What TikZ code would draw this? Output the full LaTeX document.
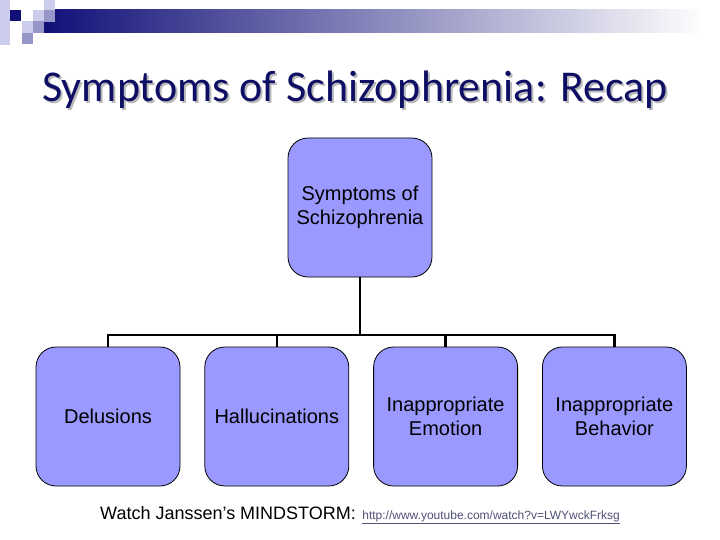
\documentclass[tikz,border=0pt]{standalone}
\usepackage{fontspec}
\setmainfont{Liberation Sans}
\newfontfamily\titlefont{Carlito}
\usepackage{xcolor}
\usetikzlibrary{positioning}

\definecolor{boxfill}{RGB}{153,153,255}
\definecolor{navy}{RGB}{16,16,120}
\definecolor{titlecol}{RGB}{14,14,100}
\definecolor{barmid}{RGB}{165,165,190}
\definecolor{lavlight}{RGB}{204,204,236}
\definecolor{lavmid}{RGB}{150,150,200}
\definecolor{urlcol}{RGB}{80,80,120}

\begin{document}
\begin{tikzpicture}[
    x=1pt, y=-1pt,
    symptom/.style={rectangle, rounded corners=20pt, minimum width=144pt, minimum height=139pt, align=center, draw=black, line width=0.8pt, fill=boxfill, font=\fontsize{20}{24}\selectfont, inner sep=0pt},
    link/.style={draw=black, line width=2.6pt}
]
    \useasboundingbox (0,0) rectangle (720,540);

    % header bar and squares
    \shade[left color=navy, middle color=barmid, right color=white] (44,10) rectangle (705,33);
    \fill[lavlight] (0,0) rectangle (10,45);
    \fill[navy] (10,10) rectangle (21,21);
    \fill[lavlight] (33,10) rectangle (44,21);
    \fill[lavlight] (44,0) rectangle (55,10);
    \fill[lavmid] (44,10) rectangle (55,22);
    \fill[lavlight] (22,21) rectangle (33,33);
    \fill[lavmid] (33,21) rectangle (44,33);
    \fill[lavmid] (22,33) rectangle (33,44);

    % title, with its shadow
    \node[text=titlecol, font=\titlefont\fontsize{44}{52}\selectfont] (title) at (355,91)
        {\makebox[0pt][l]{\kern2pt\raisebox{-2pt}{\color{gray!55}Symptoms of Schizophrenia: Recap}}Symptoms of Schizophrenia: Recap};

    % boxes
    \node[symptom] (root) at (360,207.5) {Symptoms of\\Schizophrenia};
    \node[symptom] (delus) at (108,416.5) {Delusions};
    \node[symptom, right=24pt of delus] (halluc) {Hallucinations};
    \node[symptom, right=24pt of halluc] (emot) {Inappropriate\\Emotion};
    \node[symptom, right=24pt of emot] (behav) {Inappropriate\\Behavior};

    % connectors
    \coordinate (bus) at (360,335);
    \draw[link] (root.south) -- (bus);
    \draw[link] (delus.north) -- (delus.north |- bus) -- (behav.north |- bus) -- (behav.north);
    \draw[link] (halluc.north) -- (halluc.north |- bus);
    \draw[link] (emot.north) -- (emot.north |- bus);

    % footer
    \node[anchor=base west, font=\fontsize{18}{22}\selectfont, inner sep=0pt] (watch) at (100,519) {Watch Janssen’s MINDSTORM:};
    \node[anchor=base west, font=\fontsize{12}{14}\selectfont, text=urlcol, inner sep=0pt, xshift=6pt] (url) at (watch.base east) {\underline{http://www.youtube.com/watch?v=LWYwckFrksg}};
\end{tikzpicture}
\end{document}
